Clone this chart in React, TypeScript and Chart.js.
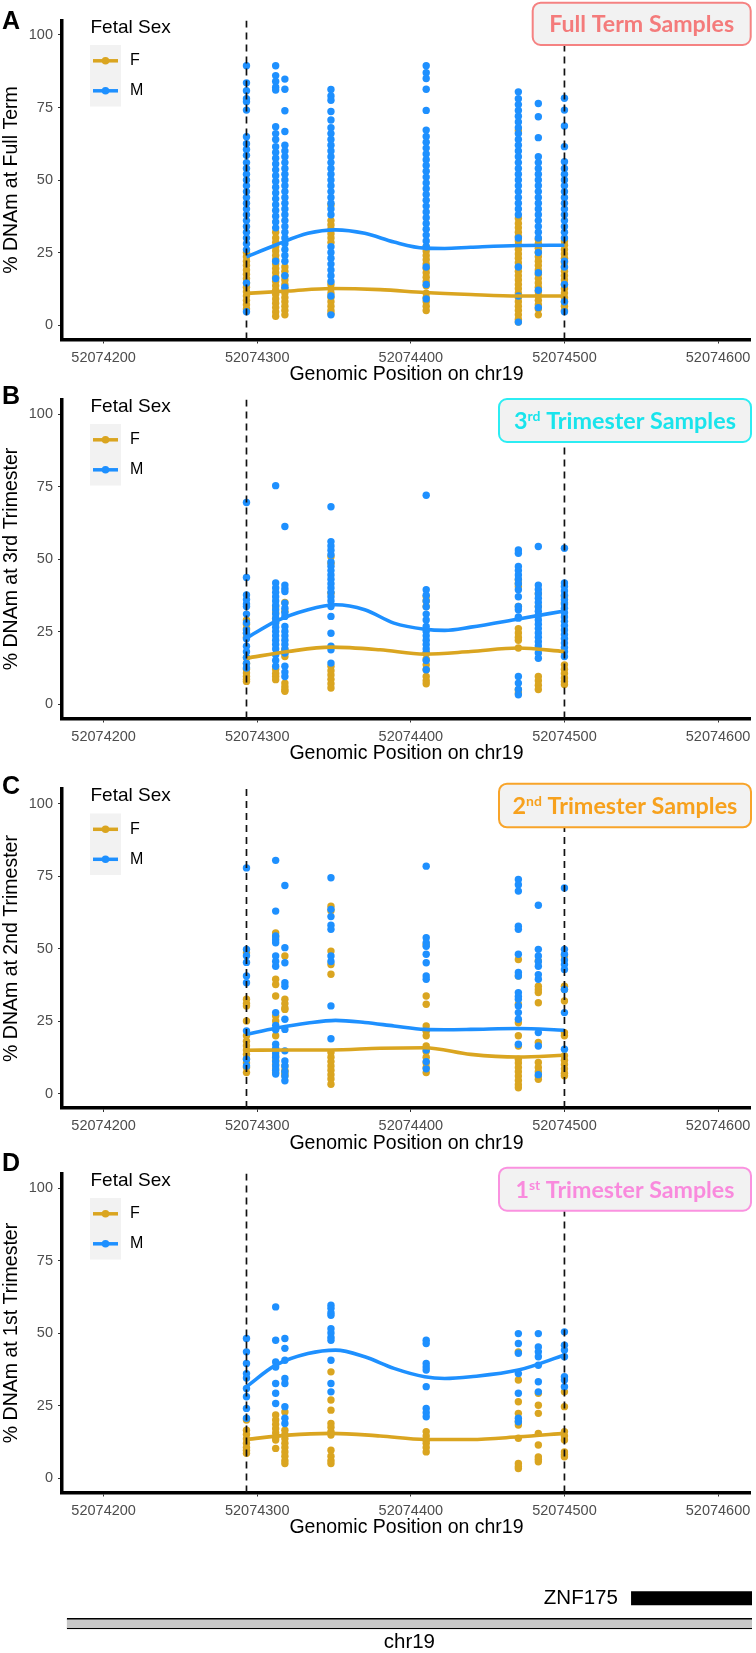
import React, { useEffect, useRef } from "react";
import { Chart, registerables } from "chart.js";

Chart.register(...registerables);

// ---------------- DATA ----------------
const cpgPositions = [52074293, 52074312, 52074318, 52074348, 52074410, 52074470, 52074483, 52074500];
const dashedPositions = [52074293, 52074500];
const xTicks = [52074200, 52074300, 52074400, 52074500, 52074600];
const yTicks = [0, 25, 50, 75, 100];
const sexLabels = ["F", "M"];

// Full term (panel A): one list of % DNAm values per CpG position
const fullTermF = [
  [25, 23.5, 22, 20.5, 19, 17.5, 16, 14.5, 13, 11.5, 10, 8.5, 7, 5.5],
  [32, 30, 28.5, 27, 25.5, 24, 22.5, 21, 19.5, 18, 16.5, 15, 13.5, 12, 10.5, 9, 7.5, 6, 4.5, 3],
  [20, 18.5, 17, 15.5, 14, 12.5, 11, 9.5, 8, 6.5, 5, 3.5],
  [41.4, 36, 34.5, 33, 31.5, 30, 28.5, 14, 12.5, 11, 9.5, 8, 6.5, 5, 4],
  [27, 25.5, 24, 22.5, 21, 19.5, 18, 16.5, 15, 13.5, 11, 9.5, 8, 6.5, 5],
  [67, 36.7, 35, 33.5, 32, 30.5, 29, 27.5, 26, 24.5, 23, 21.5, 20, 18.5, 17, 15.5, 14, 12.5, 11, 9.5, 8, 6.5, 5, 3.5, 2, 1],
  [29.5, 28, 26.5, 25, 23.5, 22, 20.5, 19, 17.5, 16, 14.5, 13, 11.5, 10, 8.5, 7, 5.5, 3.5],
  [29, 27.5, 26, 24.5, 23, 21.5, 20, 18.5, 17, 15.5, 14, 12.5, 11, 9.5, 8, 6.5, 5],
];
const fullTermM = [
  [89.4, 83.5, 80.8, 78, 77, 74.1, 64.9, 62.5, 60.5, 58.5, 56, 54, 52, 50, 48, 46, 44, 42, 40, 38, 36, 34, 32, 30, 28, 26, 14.5, 4.6],
  [89.4, 86, 84, 82, 81, 68.4, 66, 64, 61.5, 59.5, 57.5, 55.5, 53.5, 51.5, 49.5, 47.5, 45.5, 43.5, 41.5, 39.5, 37.5, 35.5, 33.5, 22, 16],
  [84.8, 81.3, 73.9, 66.7, 62, 60, 58, 56, 54, 52, 50, 48, 46, 44, 42, 40, 38, 36, 34, 32, 30, 28, 26, 24, 22, 17, 13],
  [81.2, 79, 77.5, 73.6, 70.7, 68, 66, 64, 62, 60, 58, 56, 54, 52, 50, 48, 46, 44, 42, 40, 38, 27, 25, 23, 21, 19, 17, 15, 10, 3.5],
  [89.4, 87, 85, 81.3, 74, 67.2, 65, 63, 61, 59, 57, 55, 53, 51, 49, 47, 45, 43, 41, 39, 37, 35, 33, 31, 29, 27, 20, 14, 9],
  [80.4, 78, 76, 74, 72, 70, 68, 66, 64, 62, 60, 58, 56, 54, 52, 50, 48, 46, 44, 42, 40, 38, 30, 20, 10, 1],
  [76.4, 71.8, 64.6, 58, 56, 54, 52, 50, 48, 46, 44, 42, 40, 38, 36, 34, 32, 30, 25, 18, 12, 6],
  [78.2, 74.1, 68.6, 61.5, 56.3, 54, 52, 50, 48, 46, 44, 42, 40, 38, 36, 34, 32, 30, 22, 20, 14, 8, 4.6],
];

// 3rd trimester (panel B)
const tri3F = [
  [29, 27.5, 26, 24.5, 23, 16, 14, 12, 10.7, 9.5, 8.5, 7.8],
  [33.5, 31.5, 29.5, 28, 12, 10.5, 9.5, 8.4],
  [35, 32, 18.7, 17.5, 16.4, 7.2, 6, 5, 4.4],
  [50.8, 48.5, 38.2, 13, 11.5, 10, 8.5, 7, 5.5],
  [37, 35.5, 33.6, 17.6, 15.5, 13.5, 11.8, 9.5, 8, 7],
  [42.8, 41.5, 40.5, 33.6, 26, 24.5, 23, 22, 19.3, 4.9, 3.8],
  [38, 33.6, 9.5, 8, 6.5, 5],
  [37, 35, 13.5, 12, 10.5, 9, 7.8, 6.7],
];
const tri3M = [
  [69.5, 43.6, 37.6, 36, 34.5, 33.6, 31, 28, 25.5, 24.4, 22.5, 19.9, 18, 16, 14, 12.4],
  [75.3, 41.7, 40, 38.5, 37, 35.5, 34, 32.5, 31, 29.5, 28, 26.5, 25, 23.5, 22, 20.5, 19, 17, 15, 13],
  [61.2, 41, 39.8, 38.8, 34.8, 33, 31.5, 30.2, 26.7, 25, 23.5, 22, 20.5, 19, 17.6, 13, 11, 9.5],
  [68, 56, 54.5, 53, 51.5, 49, 47.5, 46, 44.5, 43, 41.5, 40, 38.5, 37, 35.5, 33.6, 30.2, 24.4, 19.9, 18.7, 14.1],
  [72, 39.4, 37.5, 35.5, 33.5, 31, 29, 26.7, 25, 23.5, 22, 20.5, 19, 17.6, 15, 11.8],
  [53.1, 52, 47.4, 46, 44.5, 43, 41.5, 39.4, 37, 33.6, 32.5, 30, 29.6, 9.5, 7.2, 5, 3.2],
  [54.3, 41, 39.5, 38, 36.5, 35, 33.5, 32, 30.5, 29, 27.5, 26, 24.5, 23, 21.5, 20, 17.6, 15.8],
  [53.7, 41.7, 40.5, 39, 37.5, 36, 34.5, 33, 31.5, 30, 28.5, 27, 25.5, 24, 22.5, 21, 19.5, 18, 16.4],
];

// 2nd trimester (panel C)
const tri2F = [
  [48.5, 32.5, 31, 30.2, 25, 19.9, 18, 16.5, 15, 13.5, 12, 10.5, 9, 7.2],
  [55.4, 54, 39.4, 37.6, 33.6, 26.7, 25, 19.9, 13, 11.5, 10, 8.5, 7.2],
  [47.4, 32.5, 31, 29.5, 29, 9.5, 8, 7, 6.1],
  [64.6, 63, 49.1, 44.5, 41.1, 14.1, 12.5, 11, 9.5, 8, 6.5, 5, 3.2],
  [51.4, 33.6, 30.8, 23.3, 21.5, 19.9, 16.4, 14.5, 12.5, 10.5, 9, 7.2],
  [46.2, 40.5, 30.8, 24.4, 19.9, 16.4, 11.8, 10.5, 9, 7.5, 6, 4.5, 3, 2],
  [45.7, 37, 35.8, 34.8, 31.3, 17.6, 10.7, 9, 7.5, 6, 4.9],
  [47.4, 37, 35.9, 31.9, 21, 19.9, 13, 11.5, 10, 8.5, 7, 6.1],
];
const tri2M = [
  [77.8, 49.7, 47.5, 45.2, 40.5, 38.2, 21.6, 11.8, 9.5],
  [80.4, 62.9, 54.3, 53, 52, 47.4, 45.5, 43.9, 27.9, 23.5, 22, 17, 15.5, 14, 12.5, 11, 9.5, 8, 6.7],
  [71.7, 50.3, 45.1, 38.2, 37, 25.6, 22.1, 14.7, 11.2, 9.5, 7.5, 6, 4.4],
  [74.4, 63.5, 61, 58, 56.6, 47.4, 45.5, 30.2, 18.9],
  [78.4, 53.7, 52, 50.8, 48, 45.1, 40.5, 39.4, 15, 11, 8.5],
  [73.8, 72, 69.8, 57.7, 56.6, 48, 41.7, 40.5, 34.8, 33.5, 32.5, 30.2, 27.9, 25.6, 17],
  [64.9, 49.7, 47.4, 45.5, 43.9, 41, 39.4, 21, 16.4, 6.5],
  [70.9, 49.7, 48, 46, 44.5, 42.8, 35.9, 27.9, 15.3],
];

// 1st trimester (panel D)
const tri1F = [
  [20, 16.5, 15, 13.5, 12, 10.5, 9.5, 8.5],
  [21.7, 20, 18.5, 17, 15.5, 14, 13.1, 10.2],
  [22.8, 16.5, 15, 13.5, 12, 10.5, 9, 7.5, 6, 5],
  [36.6, 26.9, 23.4, 18.8, 17.5, 16, 14.8, 9.6, 7.5, 6, 5],
  [16, 14.5, 13, 12, 10.5, 9],
  [43.5, 33.8, 26.3, 22.3, 19.4, 18.3, 13.7, 5, 4, 3.3],
  [29.2, 25.1, 22.3, 15.4, 11.4, 7.3, 6.5, 5.6],
  [29.7, 24.6, 16, 14.5, 13.1, 9, 8, 7.3],
];
const tri1M = [
  [48.1, 43.5, 39.5, 36, 34.5, 30.9, 28, 24, 20.6],
  [59, 47.5, 40, 38.3, 32.6, 29.2, 25.7],
  [48.1, 44.7, 40.6, 34.3, 32.6, 24.6, 20.6, 18.8],
  [59.6, 58.5, 57, 56.1, 51.5, 50, 48.5, 47.5, 40.6, 32.6, 29.7],
  [47.5, 46.4, 39.5, 38.3, 37.2, 31.5, 24, 22.5, 21.1],
  [49.8, 46.4, 43, 36, 29.2, 20.6, 19.4],
  [49.8, 45.2, 43.5, 41.8, 38.9, 33.2, 29.7],
  [50.4, 45.8, 44.1, 41.8, 34.9, 33.8, 31.5],
];

// loess curves
const curveXM = [52074293, 52074312, 52074333, 52074351, 52074370, 52074389, 52074409, 52074422, 52074439, 52074470, 52074500];
const curveXF = [52074293, 52074320, 52074348, 52074380, 52074409, 52074439, 52074470, 52074500];
const fullTermCurveM = [23.5, 27.6, 31.6, 32.8, 31.6, 28.6, 26.5, 26.4, 26.8, 27.4, 27.5];
const fullTermCurveF = [10.9, 11.7, 12.6, 12.2, 11.2, 10.5, 10, 10];
const tri3CurveM = [22.7, 28.5, 32.5, 34.2, 32.5, 27.9, 25.8, 25.4, 26.5, 29.3, 32.1];
const tri3CurveF = [15.8, 18.1, 19.6, 18.7, 17.2, 18.1, 19.3, 18.1];
const tri2CurveM = [20.4, 22.5, 24.3, 25.2, 24.5, 23.3, 22.1, 22.0, 22.1, 22.4, 21.8];
const tri2CurveF = [14.9, 15, 15, 15.6, 15.8, 13.5, 12.6, 13.2];
const tri1CurveM = [31.5, 38.9, 42.9, 44.1, 41.8, 37.8, 34.9, 34.3, 34.9, 37.2, 42.4];
const tri1CurveF = [13.3, 14.8, 15.4, 14.5, 13.3, 13.3, 14.2, 15.4];

// gene track
const trackLabels = ["ZNF175", "chr19"];
const geneRange = [52074543, 52074622];
const chrRange = [52074176, 52074622];

// ---------------- STYLE / LAYOUT ----------------
const W = 756;
const H = 1653;
const FONT = '"Liberation Sans", Arial, Helvetica, sans-serif';
const BOX_FONT = 'Lato, "Open Sans", sans-serif';
const X_MIN = 52074172.9;
const X_MAX = 52074621.4;
const Y_MIN = -5;
const Y_MAX = 105;
const PLOT_LEFT = 62;
const PLOT_RIGHT = 753;
const PLOT_H = 319;
const X_AXIS_H = 50;
const COLORS: Record<string, string> = { F: "#DAA520", M: "#1E90FF" };

type Box = { x0: number; x1: number; y0: number; y1: number; color: string; border: string; main: string; sup: string; rest: string; textW: number };
type Panel = {
  letter: string; letterY: number; yTitle: string; plotTop: number;
  F: number[][]; M: number[][]; curveF: number[]; curveM: number[]; box: Box;
};

const panels: Panel[] = [
  {
    letter: "A", letterY: 22, yTitle: "% DNAm at Full Term", plotTop: 20.5,
    F: fullTermF, M: fullTermM, curveF: fullTermCurveF, curveM: fullTermCurveM,
    box: { x0: 531.7, x1: 751.7, y0: 1.7, y1: 46, color: "#F47B7B", border: "#F58282", main: "Full Term Samples", sup: "", rest: "", textW: 185 },
  },
  {
    letter: "B", letterY: 397.5, yTitle: "% DNAm at 3rd Trimester", plotTop: 399.5,
    F: tri3F, M: tri3M, curveF: tri3CurveF, curveM: tri3CurveM,
    box: { x0: 498, x1: 752, y0: 398, y1: 443, color: "#19E4EC", border: "#2CEDF3", main: "3", sup: "rd", rest: " Trimester Samples", textW: 222 },
  },
  {
    letter: "C", letterY: 787.5, yTitle: "% DNAm at 2nd Trimester", plotTop: 789,
    F: tri2F, M: tri2M, curveF: tri2CurveF, curveM: tri2CurveM,
    box: { x0: 498, x1: 752, y0: 782.7, y1: 828.3, color: "#F7A11D", border: "#F8A42A", main: "2", sup: "nd", rest: " Trimester Samples", textW: 225 },
  },
  {
    letter: "D", letterY: 1164, yTitle: "% DNAm at 1st Trimester", plotTop: 1173.5,
    F: tri1F, M: tri1M, curveF: tri1CurveF, curveM: tri1CurveM,
    box: { x0: 498, x1: 752, y0: 1166.7, y1: 1211.7, color: "#F98ADD", border: "#FA92E0", main: "1", sup: "st", rest: " Trimester Samples", textW: 219 },
  },
];

function buildPoints(values: number[][]) {
  const pts: { x: number; y: number }[] = [];
  values.forEach((list, i) => list.forEach((v) => pts.push({ x: cpgPositions[i], y: v })));
  return pts;
}
function buildCurve(xs: number[], ys: number[]) {
  return xs.map((x, i) => ({ x, y: ys[i] }));
}

function roundRectPath(ctx: CanvasRenderingContext2D, x: number, y: number, w: number, h: number, r: number) {
  ctx.beginPath();
  ctx.moveTo(x + r, y);
  ctx.lineTo(x + w - r, y);
  ctx.arcTo(x + w, y, x + w, y + r, r);
  ctx.lineTo(x + w, y + h - r);
  ctx.arcTo(x + w, y + h, x + w - r, y + h, r);
  ctx.lineTo(x + r, y + h);
  ctx.arcTo(x, y + h, x, y + h - r, r);
  ctx.lineTo(x, y + r);
  ctx.arcTo(x, y, x + r, y, r);
  ctx.closePath();
}

function decorPlugin(p: Panel) {
  return {
    id: "decor" + p.letter,
    afterDraw(chart: any) {
      const ctx: CanvasRenderingContext2D = chart.ctx;
      ctx.save();
      // panel letter
      ctx.fillStyle = "#000";
      ctx.textAlign = "left";
      ctx.textBaseline = "middle";
      ctx.font = `bold 25px ${FONT}`;
      ctx.fillText(p.letter, 2, p.letterY);

      // legend
      const t = p.plotTop;
      ctx.font = `19px ${FONT}`;
      ctx.fillText("Fetal Sex", 90.5, t + 7);
      ctx.fillStyle = "#F2F2F2";
      ctx.fillRect(90, t + 24.5, 31, 61.5);
      sexLabels.forEach((s, i) => {
        const y = t + 40.3 + 30 * i;
        ctx.strokeStyle = COLORS[s];
        ctx.fillStyle = COLORS[s];
        ctx.lineWidth = 3.5;
        ctx.beginPath();
        ctx.moveTo(93, y);
        ctx.lineTo(118, y);
        ctx.stroke();
        ctx.beginPath();
        ctx.arc(105.5, y, 3.8, 0, Math.PI * 2);
        ctx.fill();
        ctx.fillStyle = "#000";
        ctx.font = `16px ${FONT}`;
        ctx.fillText(s, 130, y);
      });

      // title box
      const b = p.box;
      roundRectPath(ctx, b.x0 + 1, b.y0 + 1, b.x1 - b.x0 - 2, b.y1 - b.y0 - 2, 8);
      ctx.fillStyle = "#F2F2F2";
      ctx.fill();
      ctx.strokeStyle = b.border;
      ctx.lineWidth = 2;
      ctx.stroke();

      const supR = 0.6;
      const font = (s: number) => `bold ${s}px ${BOX_FONT}`;
      const measure = (s: number) => {
        ctx.font = font(s);
        const w1 = ctx.measureText(b.main).width;
        const w3 = ctx.measureText(b.rest).width;
        ctx.font = font(s * supR);
        const w2 = b.sup ? ctx.measureText(b.sup).width : 0;
        return [w1, w2, w3];
      };
      const base = 20;
      const m = measure(base);
      const size = (base * b.textW) / (m[0] + m[1] + m[2]);
      const mm = measure(size);
      const cx = (b.x0 + b.x1) / 2;
      const cy = (b.y0 + b.y1) / 2;
      let x = cx - b.textW / 2;
      const baseline = cy + size * 0.72 / 2;
      ctx.fillStyle = b.color;
      ctx.textBaseline = "alphabetic";
      ctx.font = font(size);
      ctx.fillText(b.main, x, baseline);
      x += mm[0];
      if (b.sup) {
        ctx.font = font(size * supR);
        ctx.fillText(b.sup, x, baseline - size * 0.33);
        x += mm[1];
      }
      ctx.font = font(size);
      ctx.fillText(b.rest, x, baseline);
      ctx.restore();
    },
  };
}

function panelConfig(p: Panel): any {
  const plotBottom = p.plotTop + PLOT_H;
  const dashed = dashedPositions.map((x) => ({
    data: [{ x, y: Y_MIN }, { x, y: Y_MAX }],
    showLine: true,
    borderColor: "#111",
    borderWidth: 1.7,
    borderDash: [7, 5],
    pointRadius: 0,
  }));
  const curve = (xs: number[], ys: number[], c: string) => ({
    data: buildCurve(xs, ys),
    showLine: true,
    borderColor: c,
    borderWidth: 3.6,
    pointRadius: 0,
    cubicInterpolationMode: "monotone",
  });
  const pts = (vals: number[][], c: string) => ({
    data: buildPoints(vals),
    pointRadius: 3.7,
    pointBackgroundColor: c,
    backgroundColor: c,
    pointBorderWidth: 0,
    borderWidth: 0,
  });
  return {
    type: "scatter",
    data: {
      datasets: [
        ...dashed,
        curve(curveXM, p.curveM, COLORS.M),
        curve(curveXF, p.curveF, COLORS.F),
        pts(p.M, COLORS.M),
        pts(p.F, COLORS.F),
      ],
    },
    options: {
      responsive: false,
      animation: false,
      devicePixelRatio: 1,
      events: [],
      layout: { padding: { left: 0, right: W - PLOT_RIGHT, top: p.plotTop, bottom: H - plotBottom - X_AXIS_H } },
      plugins: { legend: { display: false }, tooltip: { enabled: false }, title: { display: false } },
      scales: {
        x: {
          type: "linear",
          min: X_MIN,
          max: X_MAX,
          afterBuildTicks: (axis: any) => {
            axis.ticks = xTicks.map((v) => ({ value: v }));
          },
          afterFit: (axis: any) => {
            axis.height = X_AXIS_H;
          },
          grid: { display: true, drawOnChartArea: false, drawTicks: true, tickLength: 4, color: "#333", lineWidth: 1 },
          border: { display: true, color: "#000", width: 3.5 },
          ticks: {
            autoSkip: false, maxRotation: 0, minRotation: 0, padding: 5.5, color: "#4D4D4D",
            font: { family: FONT, size: 14.5 },
            callback: (v: any) => String(v),
          },
          title: { display: true, text: "Genomic Position on chr19", color: "#000", font: { family: FONT, size: 19.5 }, padding: { top: 0, bottom: 3 } },
        },
        y: {
          type: "linear",
          min: Y_MIN,
          max: Y_MAX,
          afterBuildTicks: (axis: any) => {
            axis.ticks = yTicks.map((v) => ({ value: v }));
          },
          afterFit: (axis: any) => {
            axis.width = PLOT_LEFT;
          },
          grid: { display: true, drawOnChartArea: false, drawTicks: true, tickLength: 4, color: "#333", lineWidth: 1 },
          border: { display: true, color: "#000", width: 3.5 },
          ticks: { autoSkip: false, padding: 5, color: "#4D4D4D", font: { family: FONT, size: 14.5 }, callback: (v: any) => String(v) },
          title: { display: true, text: p.yTitle, color: "#000", font: { family: FONT, size: 19.5 }, padding: { top: 0.4, bottom: 0 } },
        },
      },
    },
    plugins: [decorPlugin(p)],
  };
}

function trackConfig(): any {
  const top = 1585.6;
  const bottom = 1636.4;
  const labelPlugin = {
    id: "trackLabels",
    afterDraw(chart: any) {
      const ctx: CanvasRenderingContext2D = chart.ctx;
      const gene = chart.getDatasetMeta(0).data[0];
      const band = chart.getDatasetMeta(1).data[1];
      ctx.save();
      ctx.fillStyle = "#000";
      ctx.font = `20.5px ${FONT}`;
      ctx.textBaseline = "middle";
      ctx.textAlign = "right";
      ctx.fillText(trackLabels[0], Math.min(gene.x, gene.base) - 13.5, gene.y);
      ctx.textAlign = "center";
      const left = Math.min(band.x, band.base);
      const right = Math.min(Math.max(band.x, band.base), chart.chartArea.right);
      ctx.fillText(trackLabels[1], (left + right) / 2, band.y + 18.5);
      ctx.restore();
    },
  };
  return {
    type: "bar",
    data: {
      labels: trackLabels,
      datasets: [
        { data: [geneRange, null], backgroundColor: "#000", borderWidth: 0, barThickness: 13.3, grouped: false },
        {
          data: [null, chrRange], backgroundColor: "#C8C8C8", borderColor: "#000",
          borderWidth: { top: 1.4, bottom: 1.4, left: 0, right: 0 }, borderSkipped: false,
          barThickness: 10.5, grouped: false,
        },
      ],
    },
    options: {
      indexAxis: "y",
      responsive: false,
      animation: false,
      devicePixelRatio: 1,
      events: [],
      layout: { padding: { left: PLOT_LEFT, right: W - PLOT_RIGHT + 1, top, bottom: H - bottom } },
      plugins: { legend: { display: false }, tooltip: { enabled: false } },
      scales: {
        x: { type: "linear", min: X_MIN, max: X_MAX, display: false },
        y: { type: "category", display: false, offset: true },
      },
    },
    plugins: [labelPlugin],
  };
}

export default function App() {
  const refs = useRef<(HTMLCanvasElement | null)[]>([]);
  useEffect(() => {
    const charts: Chart[] = [];
    panels.forEach((p, i) => {
      const c = refs.current[i];
      if (c) charts.push(new Chart(c, panelConfig(p)));
    });
    const t = refs.current[4];
    if (t) charts.push(new Chart(t, trackConfig()));
    return () => charts.forEach((c) => c.destroy());
  }, []);
  return (
    <div style={{ position: "absolute", left: 0, top: 0, width: W, height: H, background: "#fff", overflow: "hidden" }}>
      {[0, 1, 2, 3, 4].map((i) => (
        <canvas
          key={i}
          ref={(el) => {
            refs.current[i] = el;
          }}
          width={W}
          height={H}
          style={{ position: "absolute", left: 0, top: 0, width: W, height: H }}
        />
      ))}
    </div>
  );
}
